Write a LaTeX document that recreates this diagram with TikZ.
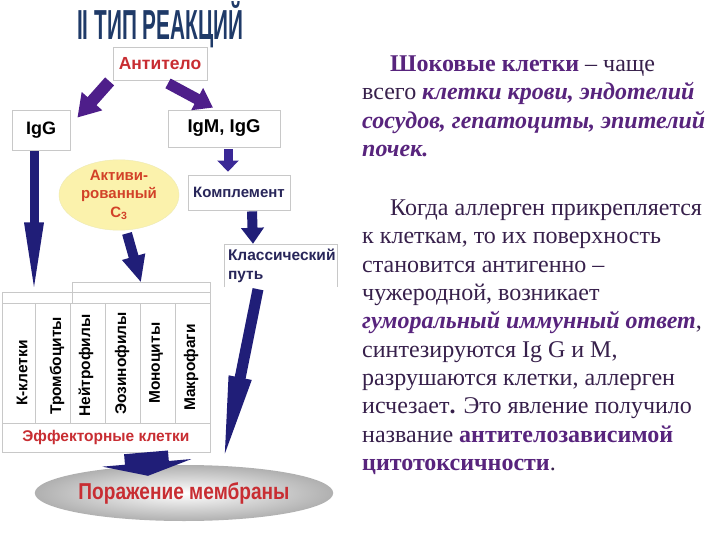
\documentclass[tikz,border=0pt]{standalone}
\usepackage{fontspec}
\setmainfont{Liberation Serif}
\setsansfont{Liberation Sans}
\usetikzlibrary{arrows.meta,shapes.geometric,calc}
\definecolor{navy}{RGB}{32,30,120}
\definecolor{purp}{RGB}{78,30,138}
\definecolor{bluep}{RGB}{58,40,150}
\definecolor{titlecol}{RGB}{31,58,104}
\definecolor{redtxt}{RGB}{200,45,50}
\definecolor{orangered}{RGB}{210,65,40}
\definecolor{darknavy}{RGB}{40,38,90}
\definecolor{txtcol}{RGB}{55,32,75}
\definecolor{emcol}{RGB}{88,36,125}
\definecolor{boxline}{RGB}{200,200,200}
\definecolor{paleyellow}{RGB}{251,242,172}
\tikzset{
  fat/.style n args={4}{draw=#4, line width=#1, -{Triangle[width=#2,length=#3]}},
  box/.style={draw=boxline, line width=0.8pt, inner sep=0pt, font=\sffamily\bfseries},
  cell/.style={draw=boxline, line width=0.7pt, inner sep=0pt},
  coltxt/.style={rotate=90, anchor=west, inner sep=0pt, font=\sffamily\bfseries\fontsize{15.5}{15.5}\selectfont},
  rline/.style={anchor=base west, inner sep=0pt, text=txtcol, font=\fontsize{24}{28}\selectfont},
}
\begin{document}
\begin{tikzpicture}[x=1pt,y=-1pt]
\useasboundingbox (0,0) rectangle (720,540);
\fill[white] (0,0) rectangle (720,540);

% title
\node[anchor=base west, inner sep=0pt, text=titlecol] (title) at (77,40)
  {\resizebox{166pt}{38pt}{\sffamily\bfseries II ТИП РЕАКЦИЙ}};

% boxes
\node[box, minimum width=94pt, minimum height=33pt, text=redtxt, font=\sffamily\bfseries\fontsize{17.5}{17.5}\selectfont] (ant) at (160,63.5) {Антитело};
\node[box, minimum width=58pt, minimum height=40pt, font=\sffamily\bfseries\fontsize{18}{18}\selectfont] (igg) at (41,130) {IgG};
\node[box, minimum width=112pt, minimum height=37pt, font=\sffamily\bfseries\fontsize{18.5}{18.5}\selectfont] (igm) at (224,128.5) {IgM, IgG};
\node[box, minimum width=102pt, minimum height=35pt, text=darknavy, font=\sffamily\bfseries\fontsize{15}{15}\selectfont] (kompl) at (239,192.5) {Комплемент};
\node[inner sep=3pt, minimum width=112pt, minimum height=42pt, text width=106pt, align=left, text=darknavy, font=\sffamily\bfseries\fontsize{15.5}{18.5}\selectfont] (klass) at (281,266) {Классический\\путь};
\draw[boxline, line width=0.8pt] (klass.south west) -- (klass.north west) -- (klass.north east) -- (klass.south east);

% C3 ellipse
\node[ellipse, draw=yellow!60!gray!40, fill=paleyellow, minimum width=120pt, minimum height=56pt, inner sep=0pt, align=center, text=orangered, font=\sffamily\bfseries\fontsize{15}{18.5}\selectfont] (c3) at (119,195) {Активи-\\рованный\\C\textsubscript{3}};

% table
\node[cell, minimum width=70pt, minimum height=11pt] (hdrL) at (37,297.5) {};
\node[cell, minimum width=138pt, minimum height=10pt] (hdrR1) at (141,287) {};
\node[cell, minimum width=138pt, minimum height=11pt] (hdrR2) at (141,297.5) {};
\node[cell, minimum width=33pt, minimum height=120pt] (col1) at (18.5,363) {};
\node[cell, minimum width=35pt, minimum height=120pt] (col2) at (52.5,363) {};
\node[cell, minimum width=35pt, minimum height=120pt] (col3) at (87.5,363) {};
\node[cell, minimum width=35pt, minimum height=120pt] (col4) at (122.5,363) {};
\node[cell, minimum width=35pt, minimum height=120pt] (col5) at (157.5,363) {};
\node[cell, minimum width=35pt, minimum height=120pt] (col6) at (192.5,363) {};
\node[cell, minimum width=208pt, minimum height=29pt, text=redtxt, font=\sffamily\bfseries\fontsize{15.5}{15.5}\selectfont] (eff) at (106,437.5) {Эффекторные клетки};

\node[coltxt] (t1) at (22,406) {К-клетки};
\node[coltxt] (t2) at (57,415) {Тромбоциты};
\node[coltxt] (t3) at (86,417) {Нейтрофилы};
\node[coltxt] (t4) at (122,415) {Эозинофилы};
\node[coltxt] (t5) at (156,404) {Моноциты};
\node[coltxt] (t6) at (191,411) {Макрофаги};

% damage ellipse
\node[ellipse, shading=radial, inner color=white, outer color=gray!62, minimum width=248pt, minimum height=56pt, inner sep=0pt, text=redtxt, font=\sffamily\bfseries\fontsize{23}{23}\selectfont] (por) at (184,493) {\scalebox{0.83}[1]{Поражение мембраны}};

% arrows
\draw[fat={12pt}{26pt}{22pt}{purp}] ($(ant.south west)+(-3,1)$) -- ($(igg.north east)+(7,8)$);
\draw[fat={11pt}{24pt}{18pt}{purp}] ($(ant.south)+(8,3)$) -- ($(igm.north)+(-11,-2)$);
\draw[fat={9pt}{21pt}{11pt}{bluep}] ($(igm.south)+(4,2)$) -- ($(kompl.north)+(-11,-3)$);
\draw[fat={10pt}{22pt}{16pt}{navy}] ($(kompl.south)+(13,1)$) -- ($(klass.north)+(-28,-1)$);
\draw[fat={9pt}{17pt}{75pt}{navy}] ($(igg.south)+(-7,1)$) -- ($(hdrL.center)+(-3,0)$);
\draw[fat={10pt}{22pt}{27pt}{navy}] ($(c3.south)+(8,3)$) -- ($(hdrR1.north)+(0,1)$);
\draw[fat={11pt}{20pt}{92pt}{navy}] ($(klass.south)+(-23,2)$) -- ($(por.north)+(38,3)$);
\draw[fat={44pt}{89pt}{13pt}{navy}] ($(eff.south)+(40,0)$) -- ($(por.north)+(-36,11)$);

% right text
\node[rline] (p1a) at (390,72) {\textcolor{emcol}{\textbf{Шоковые клетки}} – чаще};
\node[rline] (p1b) at (362,100) {всего \textcolor{emcol}{\textbf{\textit{клетки крови, эндотелий}}}};
\node[rline] (p1c) at (362,128.5) {\textcolor{emcol}{\textbf{\textit{сосудов, гепатоциты, эпителий}}}};
\node[rline] (p1d) at (362,157) {\textcolor{emcol}{\textbf{\textit{почек.}}}};

\node[rline] (p2a) at (390,215) {Когда аллерген прикрепляется};
\node[rline] (p2b) at (362,243.5) {к клеткам, то их поверхность};
\node[rline] (p2c) at (362,272) {становится антигенно –};
\node[rline] (p2d) at (362,300) {чужеродной, возникает};
\node[rline] (p2e) at (362,328.5) {\textcolor{emcol}{\textbf{\textit{гуморальный иммунный ответ}}},};
\node[rline] (p2f) at (362,357) {синтезируются Ig G и M,};
\node[rline] (p2g) at (362,385) {разрушаются клетки, аллерген};
\node[rline] (p2h) at (362,413.5) {исчезает\textbf{.} Это явление получило};
\node[rline] (p2i) at (362,442) {название \textcolor{emcol}{\textbf{антителозависимой}}};
\node[rline] (p2j) at (362,470) {\textcolor{emcol}{\textbf{цитотоксичности}}.};
\end{tikzpicture}
\end{document}
